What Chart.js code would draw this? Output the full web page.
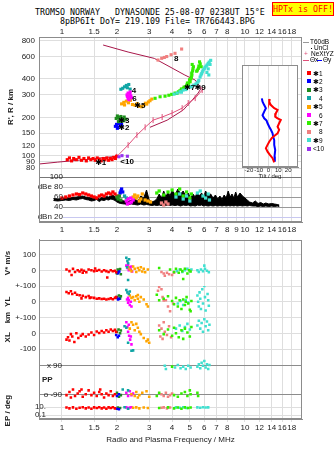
<!DOCTYPE html>
<html>
<head>
<meta charset="utf-8">
<script src="https://cdn.jsdelivr.net/npm/chart.js@4.4.1/dist/chart.umd.min.js"></script>
<style>
  body { margin: 0; width: 335px; height: 451px; background: #fff; position: relative; overflow: hidden;
         font-family: "Liberation Sans", Arial, sans-serif; }
  canvas { position: absolute; }
  .mono { position: absolute; font: 8.3px "DejaVu Sans Mono", monospace; white-space: pre; line-height: 9px; color: #000; }
  #hptx { left: 272px; top: 2px; width: 60px; height: 12px; background: #ffff00; border: 1px solid #ff0000;
          color: #ff0000; text-align: center; line-height: 12px; }
  .lg { position: absolute; font-size: 6.5px; line-height: 7px; white-space: pre; color: #000; }
  .sw { position: absolute; }
  .st { display: inline-block; width: 6px; font-family: "DejaVu Sans", sans-serif; font-size: 7px; }
</style>
</head>
<body>
<div class="mono" style="left:35px;top:8px">TROMSO NORWAY   DYNASONDE 25-08-07 0238UT 15°E</div>
<div class="mono" style="left:60px;top:17px">8pBP6It DoY= 219.109 File= TR766443.BPG</div>
<div class="mono" id="hptx">HPTx is OFF!</div>
<canvas id="ionoChart" width="335" height="240" style="left:0;top:0"></canvas>
<canvas id="tiltChart" width="66" height="118" style="left:236px;top:62px"></canvas>
<canvas id="polChart" width="335" height="219" style="left:0;top:232px"></canvas>
<div id="legend"></div>
<script>
// ---- axis ticks ----
const freqTicks = [1, 1.5, 2, 3, 4, 5, 6, 7, 8, 10, 12, 14, 16, 18];
const freqTicksMid = [1, 1.5, 2, 3, 4, 5, 6, 7, 8, 9, 10, 12, 14, 16, 18];
const heightTicks = [800, 600, 400, 300, 200, 150, 120, 100, 90, 80];
const ampTicks = [100, 80, 60, 40, 20];
const ampTickLabels = ['100', 'dBe 80', '60', '40', 'dBn 20'];
const tiltTicks = [-20, -10, 0, 10, 20];

// ---- echo classes ----
const classNames = ['✱1', '✱2', '✱3', '4', '✱5', '6', '✱7', '8', '✱9', '<10'];
const classColors = ['#ff0000', '#0000ff', '#1e8c1e', '#10a5a5', '#ffa500', '#ff00ff', '#33ee00', '#f08080', '#40e0d0', '#9933ee'];

// ---- ionogram traces [MHz, km] ----
const profileLower = [[0.75, 86], [0.95, 89], [1.55, 95], [2.0, 99]];
const profileUpper = [[1.68, 739], [2.3, 651], [3.2, 580], [4.0, 487], [4.7, 429], [5.35, 392], [5.77, 339],
  [5.55, 310], [5.15, 273], [4.6, 228], [3.76, 190], [3.03, 167]];
const nextyz = [[1.99, 98], [2.3, 121], [2.57, 145], [2.85, 167], [3.15, 190], [3.53, 201], [4.0, 216],
  [4.54, 236], [4.9, 259], [5.35, 283], [5.84, 327]];

// [MHz, km, class]
const ionoPts = [
  [1.07,93,1],[1.1,96,1],[1.13,91,1],[1.16,95,1],[1.2,93,1],[1.24,97,1],[1.28,92,1],[1.32,95,1],[1.36,91,1],
  [1.4,96,1],[1.44,93,1],[1.48,95,1],[1.52,92,1],[1.56,96,1],[1.6,94,1],[1.64,91,1],[1.68,95,1],[1.72,93,1],
  [1.76,96,1],[1.8,92,1],[1.84,95,1],[1.88,93,1],[1.92,97,1],[1.96,95,1],[1.99,99,1],
  [1.96,170,2],[1.99,176,2],[2.02,167,2],[2.05,179,2],[2.08,172,2],[2.12,176,2],[2.01,164,2],
  [1.98,196,3],[2.01,205,3],[2.04,199,3],[2.07,190,3],[2.1,203,3],[2.12,186,3],[2.15,196,3],[2.19,201,3],
  [2.17,188,3],[2.24,193,3],[2.04,185,3],[2.09,195,3],
  [2.1,332,4],[2.15,338,4],[2.2,347,4],[2.25,356,4],[2.28,341,4],[2.32,362,4],[2.36,333,4],
  [2.12,255,5],[2.18,262,5],[2.25,268,5],[2.31,260,5],[2.37,272,5],[2.43,252,5],[2.51,249,5],[2.58,256,5],
  [2.65,244,5],[2.73,242,5],[2.8,250,5],[2.86,258,5],[2.91,254,5],[2.97,264,5],[3.03,270,5],[3.1,278,5],[2.2,250,5],
  [2.27,300,6],[2.3,310,6],[2.32,290,6],[2.35,305,6],[2.3,280,6],[2.38,295,6],[2.33,275,6],[2.4,285,6],
  [2.36,316,6],[2.28,292,6],
  [3.23,282,7],[3.44,290,7],[3.66,293,7],[3.84,298,7],[3.98,303,7],[4.15,310,7],[4.33,317,7],[4.47,326,7],
  [4.61,337,7],[4.72,346,7],[4.81,358,7],[4.92,370,7],[5.02,380,7],[5.07,402,7],[5.13,429,7],[5.18,462,7],
  [5.23,499,7],[5.5,470,7],[5.57,485,7],[5.77,499,7],[4.5,334,7],[4.25,308,7],[4.9,352,7],[4.98,392,7],[5.1,415,7],
  [4.4,322,7],[4.65,345,7],[4.85,372,7],[5.0,395,7],[5.12,445,7],[5.2,480,7],[5.6,505,7],[5.7,525,7],[5.45,460,7],
  [5.15,520,7],[5.65,545,7],
  [3.35,563,8],[3.51,581,8],[3.63,590,8],[3.74,600,8],[3.95,620,8],[4.15,636,8],[4.51,687,8],
  [4.1,304,9],[4.26,310,9],[4.42,318,9],[4.59,327,9],[4.8,335,9],[5.02,345,9],[5.25,358,9],[5.48,371,9],
  [5.6,390,9],[5.69,414,9],[5.8,440,9],[5.91,471,9],[6.05,495,9],[6.22,516,9],[6.3,530,9],[6.38,543,9],
  [5.55,380,9],[5.85,455,9],
  [4.5,315,9],[4.75,330,9],[5.1,350,9],[5.4,365,9],[5.75,430,9],[6.0,480,9],[6.15,505,9],[6.2,450,9],
  [6.3,480,9],[6.45,520,9],[6.5,560,9],[6.35,430,9],
  [2.05,98,10],[2.13,100,10],[2.28,99,10]
];

// labels written on the ionogram [MHz, km, text]
const ionoLabels = [[1.63, 88, '✱1'], [2.27, 90, '<10'], [2.18, 187, '✱3'], [2.18, 164, '✱2'], [2.48, 321, '4'],
  [2.49, 281, '6'], [2.67, 245, '✱5'], [4.98, 339, '✱7'], [5.69, 339, '✱9'], [4.21, 576, '8']];

// ---- amplitude [MHz, dB low, dB high] of unclassified echoes ----
const unclAmp = [
  [0.9,53,57],[0.95,52,56],[1.0,53,57],[1.05,54,58],[1.1,53,58],[1.15,55,59],[1.2,54,60],[1.25,56,61],[1.3,57,62],
  [1.35,55,60],[1.4,54,59],[1.45,52,58],[1.5,53,57],[1.55,55,60],[1.6,51,56],[1.65,54,59],[1.7,53,58],[1.75,55,61],
  [1.8,54,60],[1.85,56,62],[1.9,55,64],[1.95,53,60],[2.0,50,58],[2.05,48,56],[2.1,47,53],[2.2,46,52],[2.3,45,51],
  [2.4,46,54],[2.5,45,56],[2.6,44,52],[2.7,46,62],[2.8,44,58],[2.9,45,74],[3.0,44,54],[3.1,43,50],[3.2,44,52],
  [3.3,43,56],[3.4,44,66],[3.5,43,58],[3.6,44,72],[3.7,43,60],[3.8,44,70],[3.9,43,62],[4.0,44,74],[4.15,43,64],
  [4.3,44,76],[4.45,42,66],[4.6,44,72],[4.75,43,62],[4.9,44,68],[5.05,42,58],[5.2,43,66],[5.35,42,60],[5.5,44,70],
  [5.65,43,62],[5.8,44,68],[5.95,42,60],[6.1,43,72],[6.3,42,62],[6.5,43,66],[6.7,42,58],[6.9,43,64],[7.1,42,56],
  [7.3,43,62],[7.5,42,55],[7.7,43,64],[7.9,42,58],[8.1,43,72],[8.3,42,60],[8.5,43,66],[8.7,42,58],[8.9,43,70],
  [9.1,42,60],[9.4,43,68],[9.7,42,62],[10.0,43,58],[10.3,42,54],[10.6,43,50],[11.0,42,48],[11.4,42,52],[11.8,41,47],
  [12.2,42,49],[12.6,41,46],[13.0,42,48],[13.5,41,46],[14.0,42,47],[14.5,41,46],[15.0,42,45],[15.4,41,44]
];
// [MHz, dB, class]
const ampPts = [
  [1.0,58,1],[1.05,60,1],[1.1,62,1],[1.15,64,1],[1.2,66,1],[1.25,65,1],[1.3,68,1],[1.35,66,1],[1.4,64,1],[1.45,62,1],
  [1.5,60,1],[1.55,58,1],[1.6,62,1],[1.65,64,1],[1.7,62,1],[1.75,66,1],[1.8,68,1],[1.85,66,1],[1.9,70,1],[1.95,66,1],[2.0,62,1],
  [2.08,68,2],[2.1,72,2],[2.12,76,2],[2.15,70,2],
  [2.0,60,3],[2.03,56,3],[2.06,62,3],[2.1,54,3],
  [2.2,62,4],[2.25,58,4],
  [2.45,60,5],[2.5,64,5],[2.55,58,5],[2.6,62,5],[2.65,52,5],[2.7,56,5],[2.75,66,5],[2.85,54,5],[2.95,52,5],[3.05,50,5],
  [2.25,52,6],[2.28,46,6],[2.3,56,6],[2.35,48,6],[2.38,58,6],[2.4,50,6],[2.45,54,6],
  [3.3,68,7],[3.4,72,7],[3.6,64,7],[3.8,70,7],[4.0,74,7],[4.2,66,7],[4.4,76,7],[4.6,62,7],[4.8,70,7],[5.0,58,7],[5.1,66,7],
  [3.5,48,8],[3.6,44,8],[3.7,50,8],[3.8,46,8],
  [4.2,60,9],[4.4,66,9],[4.6,56,9],[4.8,62,9],[5.0,52,9],[5.5,68,9],[5.7,72,9],[5.9,62,9],[6.1,58,9],[6.3,66,9],[6.4,54,9]
];

// ---- tilt inset [deg, km] ----
const tiltX = [[1.4,278],[0.7,265],[2.4,249],[5.8,235],[9.2,228],[7.5,215],[6.8,202],[9.2,196],[12.5,190],[10.8,179],
  [9.2,168],[10.8,159],[9.2,149],[5.8,142],[3.4,137],[0.7,128],[-1,121],[-2.7,114],[-1,107],[1.4,101],[4.1,95],[5.8,88]];
const tiltY = [[-6.8,281],[-6.1,265],[-4.4,249],[-2.7,235],[-4.4,221],[-6.1,207],[-4.4,196],[-2,188],[-1,179],[0.7,168],
  [2.4,159],[4.1,149],[4.7,141],[5.8,132],[5.8,121],[6.8,110],[6.1,98],[6.4,89]];

// ---- lower panel [MHz, value, class] ----
const vStarPts = [
  [1.06,5,1],[1.1,-5,1],[1.13,-29,1],[1.15,10,1],[1.18,-10,1],[1.22,0,1],[1.25,-8,1],[1.28,3,1],[1.32,-2,1],[1.36,-12,1],
  [1.4,5,1],[1.45,0,1],[1.5,-5,1],[1.52,12,1],[1.55,-3,1],[1.6,2,1],[1.65,-8,1],[1.7,0,1],[1.75,-5,1],[1.77,-46,1],
  [1.8,-10,1],[1.85,0,1],[1.9,-6,1],[1.95,-3,1],[1.98,-12,1],[1.3,-15,1],
  [2.0,-12,2],[2.03,-18,2],[2.06,-8,2],
  [2.0,-20,3],[2.04,-5,3],[2.08,8,3],[2.1,-25,3],[2.02,5,3],
  [2.25,80,4],[2.28,60,4],[2.3,45,4],[2.33,70,4],[2.27,20,4],[2.3,-62,4],
  [2.3,20,5],[2.35,5,5],[2.4,-5,5],[2.45,25,5],[2.5,10,5],[2.55,-10,5],[2.6,15,5],[2.65,0,5],[2.7,20,5],[2.75,-8,5],
  [2.8,10,5],[2.85,-12,5],[2.95,5,5],
  [2.25,30,6],[2.28,15,6],[2.3,35,6],[2.32,0,6],[2.35,20,6],[2.38,5,6],[2.4,25,6],[2.42,-8,6],
  [3.4,15,7],[3.9,5,7],[4.1,-10,7],[4.2,10,7],[4.35,-15,7],[4.45,5,7],[4.55,-5,7],[4.7,10,7],[4.85,-20,7],[4.95,0,7],
  [5.05,-8,7],[4.6,-55,7],
  [3.5,-10,8],[3.6,-20,8],[3.65,-35,8],[3.75,-15,8],[3.85,-25,8],[4.0,-30,8],[4.1,-15,8],
  [4.25,-5,9],[4.4,5,9],[4.55,-10,9],[4.7,0,9],[4.85,10,9],[5.0,-5,9],[5.1,5,9],[5.5,0,9],[5.6,-10,9],[5.75,5,9],
  [5.9,-5,9],[6.05,10,9],[6.2,-3,9],[6.35,-12,9],[6.0,30,9]
];
const ylPts = [
  [1.06,62,1],[1.09,55,1],[1.12,67,1],[1.14,50,1],[1.18,58,1],[1.21,45,1],[1.25,42,1],[1.3,38,1],[1.35,30,1],[1.4,37,1],
  [1.45,28,1],[1.5,25,1],[1.55,20,1],[1.6,22,1],[1.65,18,1],[1.7,20,1],[1.75,15,1],[1.8,18,1],[1.85,22,1],[1.9,16,1],
  [1.95,25,1],[1.98,30,1],[1.28,22,1],[1.42,25,1],
  [2.0,25,2],[2.03,15,2],[2.06,20,2],
  [2.0,30,3],[2.05,40,3],[2.08,22,3],[2.1,35,3],
  [2.25,75,4],[2.28,60,4],[2.32,50,4],[2.35,65,4],
  [2.35,40,5],[2.4,25,5],[2.45,30,5],[2.5,10,5],[2.55,35,5],[2.6,20,5],[2.65,0,5],[2.7,30,5],[2.8,15,5],[2.9,-15,5],
  [2.95,-30,5],[2.6,44,5],
  [2.27,15,6],[2.3,-5,6],[2.32,10,6],[2.35,-20,6],[2.38,0,6],[2.4,-30,6],[2.3,25,6],
  [3.3,45,7],[3.4,10,7],[3.6,20,7],[3.8,35,7],[4.0,5,7],[4.1,-15,7],[4.2,25,7],[4.3,-30,7],[4.4,10,7],[4.5,-45,7],
  [4.6,15,7],[4.7,-20,7],[4.8,30,7],[4.9,-10,7],[5.0,-50,7],[5.05,-60,7],[5.1,5,7],[4.75,0,7],
  [3.35,70,8],[3.4,95,8],[3.45,115,8],[3.5,80,8],[3.55,30,8],[3.6,8,8],[3.7,10,8],[3.8,-30,8],[3.9,-60,8],[4.05,-10,8],
  [4.3,-10,9],[4.45,5,9],[4.6,-20,9],[4.75,10,9],[4.9,-5,9],[5.5,40,9],[5.55,0,9],[5.6,-30,9],[5.65,60,9],[5.7,20,9],
  [5.75,-45,9],[5.85,80,9],[5.9,-10,9],[6.0,100,9],[6.05,30,9],[6.1,-55,9],[6.2,120,9],[6.25,50,9],[6.3,10,9],[6.35,-25,9]
];
const xlPts = [
  [1.06,-40,1],[1.08,-25,1],[1.1,-45,1],[1.12,-5,1],[1.14,-20,1],[1.17,-55,1],[1.2,0,1],[1.23,-30,1],[1.27,-15,1],
  [1.3,-5,1],[1.35,-20,1],[1.4,-8,1],[1.45,5,1],[1.5,-10,1],[1.55,12,1],[1.6,2,1],[1.65,15,1],[1.7,5,1],[1.75,20,1],
  [1.8,10,1],[1.85,25,1],[1.9,15,1],[1.95,22,1],[1.98,8,1],
  [1.98,-10,2],[2.02,-25,2],[2.05,-15,2],
  [2.0,10,3],[2.04,25,3],[2.08,0,3],[2.1,18,3],
  [2.2,45,4],[2.25,35,4],[2.4,-110,4],[2.45,-108,4],[2.3,-60,4],
  [2.35,30,5],[2.4,70,5],[2.45,55,5],[2.5,20,5],[2.55,60,5],[2.6,35,5],[2.65,10,5],[2.7,-5,5],[2.8,-30,5],[2.9,-50,5],
  [3.0,-60,5],[2.95,-40,5],
  [2.25,70,6],[2.28,40,6],[2.3,10,6],[2.33,-15,6],[2.36,-40,6],[2.4,-70,6],[2.38,-20,6],[2.32,55,6],
  [3.4,20,7],[3.6,-5,7],[3.8,25,7],[4.0,-15,7],[4.1,35,7],[4.2,0,7],[4.35,-25,7],[4.5,20,7],[4.6,-35,7],[4.7,30,7],
  [4.85,5,7],[5.0,-20,7],[5.1,40,7],
  [3.4,50,8],[3.45,-20,8],[3.5,30,8],[3.55,-35,8],[3.6,70,8],[3.65,10,8],[3.75,-10,8],[3.85,45,8],[3.95,-25,8],
  [4.2,30,9],[4.4,50,9],[4.55,15,9],[4.7,40,9],[4.85,60,9],[5.0,25,9],[5.5,50,9],[5.6,80,9],[5.7,30,9],[5.8,65,9],
  [5.9,10,9],[6.0,90,9],[6.1,45,9],[6.2,75,9],[6.3,20,9],[6.4,55,9]
];
const ppPts = [
  [1.06,-95,1],[1.1,-75,1],[1.12,-110,1],[1.15,-60,1],[1.18,-100,1],[1.22,-85,1],[1.25,-70,1],[1.3,-105,1],[1.35,-90,1],
  [1.4,-65,1],[1.45,-95,1],[1.5,-80,1],[1.55,-100,1],[1.6,-75,1],[1.65,-90,1],[1.7,-110,1],[1.75,-85,1],[1.8,-95,1],
  [1.85,-70,1],[1.9,-100,1],[1.95,-90,1],[1.28,-60,1],[1.62,-60,1],
  [2.0,-100,2],[2.05,-90,2],
  [2.0,-80,3],[2.05,-105,3],[2.1,-95,3],
  [2.15,-60,4],[2.3,-65,4],
  [2.4,-90,5],[2.5,-100,5],[2.55,-75,5],[2.65,-95,5],[2.75,-80,5],[2.9,-70,5],[3.0,-105,5],[2.6,-110,5],
  [2.25,-80,6],[2.3,-100,6],[2.35,-70,6],[2.4,-95,6],[2.45,-85,6],
  [3.3,-100,7],[3.4,-80,7],[4.0,85,7],[4.1,-95,7],[4.3,-105,7],[4.5,-85,7],[4.7,-75,7],[4.85,-100,7],[5.0,-65,7],
  [5.05,-90,7],[5.5,-80,7],[5.55,-100,7],
  [3.5,-90,8],[3.6,-100,8],[3.7,-80,8],[3.8,-105,8],[3.9,-95,8],[4.0,-85,8],
  [3.65,90,9],[3.7,70,9],[4.15,80,9],[4.3,95,9],[4.45,75,9],[4.6,85,9],[4.75,70,9],[4.9,90,9],[5.05,80,9],[5.5,85,9],
  [5.6,100,9],[5.7,75,9],[5.8,110,9],[5.9,90,9],[6.0,120,9],[6.1,80,9],[6.2,100,9],[6.3,70,9],[6.4,95,9]
];
const epPts = [
  [1.06,8,1],[1.1,5,1],[1.15,9,1],[1.2,4,1],[1.25,7,1],[1.3,10,1],[1.35,5,1],[1.4,8,1],[1.45,4,1],[1.5,9,1],[1.55,6,1],
  [1.6,10,1],[1.65,5,1],[1.7,8,1],[1.75,4,1],[1.8,9,1],[1.85,6,1],[1.9,10,1],[1.95,5,1],
  [2.0,4,2],[2.05,3,2],
  [2.02,8,3],[2.08,6,3],
  [2.2,10,4],[2.3,4,4],
  [2.45,7,5],[2.55,9,5],[2.65,5,5],[2.8,8,5],[2.95,6,5],
  [2.25,9,6],[2.3,5,6],[2.35,8,6],[2.4,10,6],
  [3.4,6,7],[3.8,9,7],[4.1,5,7],[4.3,8,7],[4.5,4,7],[4.7,9,7],[4.9,6,7],[5.05,8,7],
  [3.5,7,8],[3.6,9,8],[3.75,5,8],[3.9,8,8],
  [4.2,9,9],[4.4,7,9],[4.6,10,9],[4.8,6,9],[5.5,9,9],[5.7,7,9],[5.9,10,9],[6.1,8,9],[6.3,9,9]
];

// ---- helpers ----
Chart.defaults.font.family = "'Liberation Sans', Arial, sans-serif";
Chart.defaults.font.size = 8;
Chart.defaults.color = '#222';
Chart.defaults.animation = false;

const gridColor = '#dedede';
const frameColor = '#8c8c8c';
const fMin = 0.75, fMax = 20.5;

function pts(list) { return list.map(p => ({ x: p[0], y: p[1] })); }
function ofClass(list, c) { return pts(list.filter(p => p[2] === c)); }
function fixTicks(values) { return axis => { axis.ticks = values.map(v => ({ value: v })); }; }
function fixWidth(w) { return axis => { axis.width = w; }; }
function fixHeight(h) { return axis => { axis.height = h; }; }

function classSets(list, axis, radius) {
  const sets = [];
  classNames.forEach((name, i) => {
    const data = ofClass(list, i + 1);
    if (!data.length) return;
    sets.push({ label: name, data: data, yAxisID: axis, pointStyle: 'rect', pointRadius: radius,
      backgroundColor: classColors[i], borderWidth: 0 });
  });
  return sets;
}

// outline of the plot area
const framePlugin = {
  id: 'frame',
  afterDraw(chart) {
    const a = chart.chartArea, ctx = chart.ctx;
    ctx.save();
    ctx.strokeStyle = frameColor;
    ctx.lineWidth = 1;
    ctx.strokeRect(Math.round(a.left) + 0.5, Math.round(a.top) + 0.5, Math.round(a.width) - 1, Math.round(a.height) - 1);
    ctx.restore();
  }
};

// tick labels that sit inside the plot, left edge
const innerLabels = {
  id: 'innerLabels',
  beforeDatasetsDraw(chart, args, opts) {
    const ctx = chart.ctx, a = chart.chartArea;
    ctx.save();
    ctx.fillStyle = '#fff';
    (opts.items || []).forEach(it => {
      const s = chart.scales[it.axis];
      if (it.blank) ctx.fillRect(a.left + 1, s.top + 1, it.right - 1, s.bottom - s.top - 1);
    });
    ctx.restore();
  },
  afterDatasetsDraw(chart, args, opts) {
    const ctx = chart.ctx, a = chart.chartArea;
    ctx.save();
    ctx.font = "8px 'Liberation Sans', Arial, sans-serif";
    ctx.fillStyle = '#222';
    ctx.textAlign = 'right';
    ctx.textBaseline = 'middle';
    (opts.items || []).forEach(it => {
      const s = chart.scales[it.axis];
      it.values.forEach((v, i) => ctx.fillText(it.labels[i], a.left + it.right, s.getPixelForValue(v)));
    });
    ctx.restore();
  }
};

// text marks placed at data coordinates
const textMarks = {
  id: 'textMarks',
  afterDatasetsDraw(chart, args, opts) {
    if (!opts.items) return;
    const ctx = chart.ctx, xs = chart.scales.x, ys = chart.scales[opts.axis];
    ctx.save();
    ctx.font = "bold 8px 'Liberation Sans', 'DejaVu Sans', sans-serif";
    ctx.fillStyle = '#000';
    ctx.textAlign = 'center';
    ctx.textBaseline = 'middle';
    opts.items.forEach(([f, v, t]) => ctx.fillText(t, xs.getPixelForValue(f), ys.getPixelForValue(v)));
    ctx.restore();
  }
};

function freqAxis(position, ticks, height, pad, extra) {
  return Object.assign({
    type: 'logarithmic', position: position, min: fMin, max: fMax,
    afterBuildTicks: fixTicks(ticks), afterFit: fixHeight(height),
    ticks: { autoSkip: false, maxRotation: 0, padding: pad, callback: v => String(v) },
    grid: { color: gridColor, drawTicks: false },
    border: { color: frameColor }
  }, extra || {});
}

// ---- top chart: ionogram + amplitude ----
const topSets = [];
topSets.push({ label: 'UnCl', data: pts(unclAmp.map(r => [r[0], r[1]])), yAxisID: 'amp', showLine: true,
  borderColor: '#000', borderWidth: 1, pointRadius: 0, backgroundColor: '#000' });
topSets.push({ label: 'UnCl', data: pts(unclAmp.map(r => [r[0], r[2]])), yAxisID: 'amp', showLine: true,
  borderColor: '#000', borderWidth: 1, pointRadius: 0, backgroundColor: '#000', fill: '-1' });
classSets(ampPts, 'amp', 2.3).forEach(s => topSets.push(s));
topSets.push({ label: 'profile', data: pts(profileLower), yAxisID: 'h', showLine: true, borderColor: '#a8174a',
  borderWidth: 1, pointRadius: 0 });
topSets.push({ label: 'profile', data: pts(profileUpper), yAxisID: 'h', showLine: true, borderColor: '#a8174a',
  borderWidth: 1, pointRadius: 0 });
topSets.push({ label: 'NeXtYZ', data: pts(nextyz), yAxisID: 'h', showLine: true, borderColor: '#e0507a',
  borderWidth: 1, pointStyle: 'line', rotation: 90, pointRadius: 3, pointBorderColor: '#e0507a', pointBorderWidth: 1 });
classSets(ionoPts, 'h', 2.2).forEach(s => topSets.push(s));
topSets.forEach((s, i) => { s.order = -i; });

// stacked axes are laid out bottom-up in the order they are listed
new Chart(document.getElementById('ionoChart'), {
  type: 'scatter',
  data: { datasets: topSets },
  options: {
    responsive: false,
    layout: { padding: { left: 0, right: 33, top: 22, bottom: 4 } },
    plugins: {
      legend: { display: false }, tooltip: { enabled: false },
      innerLabels: { items: [{ axis: 'amp', values: ampTicks, labels: ampTickLabels, right: 24, blank: true }] },
      textMarks: { axis: 'h', items: ionoLabels }
    },
    scales: {
      x: freqAxis('bottom', freqTicksMid, 14, 3),
      xTop: freqAxis('top', freqTicks, 15, 0, { grid: { display: false, drawTicks: false }, border: { display: false } }),
      amp: {
        type: 'linear', position: 'left', stack: 'top', stackWeight: 45, min: 10, max: 100,
        afterBuildTicks: fixTicks(ampTicks), afterFit: fixWidth(39),
        ticks: { display: false },
        grid: { drawTicks: false, color: ctx => ({ 100: '#777', 80: '#c8c8c8', 60: '#999', 40: '#999', 20: '#c8c8f0' })[ctx.tick.value] || gridColor },
        border: { color: frameColor }
      },
      h: {
        type: 'logarithmic', position: 'left', stack: 'top', stackWeight: 140, min: 68, max: 854,
        afterBuildTicks: fixTicks(heightTicks), afterFit: fixWidth(39),
        ticks: { padding: 4, autoSkip: false, callback: v => String(v) },
        grid: { color: gridColor, drawTicks: false }, border: { color: frameColor },
        title: { display: true, text: "R', R / km", font: { size: 8, weight: 'bold' }, padding: { top: 6, bottom: 0 } }
      }
    }
  },
  plugins: [innerLabels, textMarks, framePlugin]
});

// ---- tilt inset ----
new Chart(document.getElementById('tiltChart'), {
  type: 'scatter',
  data: {
    datasets: [
      { label: 'Θx', data: pts(tiltX), showLine: true, borderColor: '#ff0000', borderWidth: 2, pointRadius: 0 },
      { label: 'Θy', data: pts(tiltY), showLine: true, borderColor: '#0000ff', borderWidth: 2, pointRadius: 0 }
    ]
  },
  options: {
    responsive: false,
    layout: { padding: { left: 6, right: 4, top: 3, bottom: 0 } },
    plugins: {
      legend: { display: false }, tooltip: { enabled: false },
      innerLabels: { items: [] }
    },
    scales: {
      x: {
        type: 'linear', min: -27, max: 30, afterBuildTicks: fixTicks(tiltTicks), afterFit: fixHeight(13),
        ticks: { font: { size: 6 }, padding: 0, autoSkip: false, maxRotation: 0, callback: v => String(v) },
        grid: { color: gridColor, drawTicks: false }, border: { color: frameColor },
        title: { display: true, text: 'Tilt / deg', font: { size: 6 }, padding: 0 }
      },
      y: { type: 'logarithmic', min: 81, max: 515, display: false }
    }
  },
  plugins: [{
    id: 'whiteBg',
    beforeDraw(chart) {
      const a = chart.chartArea;
      chart.ctx.fillStyle = '#fff';
      chart.ctx.fillRect(a.left, a.top, a.width, a.height);
    }
  }, framePlugin]
});

// ---- lower chart: V*, YL, XL, PP, EP ----
const polSets = [];
[['vs', vStarPts], ['yl', ylPts], ['xl', xlPts], ['pp', ppPts], ['ep', epPts]].forEach(([axis, list]) => {
  classSets(list, axis, 1.8).forEach(s => polSets.push(s));
});

function polAxis(weight, min, max, ticks, labels, title, extra) {
  return Object.assign({
    type: 'linear', position: 'left', stack: 'pol', stackWeight: weight, min: min, max: max,
    afterBuildTicks: fixTicks(ticks), afterFit: fixWidth(39),
    ticks: { padding: 3, autoSkip: false, callback: (v, i) => labels[i] },
    grid: { color: gridColor, drawTicks: false }, border: { color: frameColor },
    title: { display: !!title, text: title, font: { size: 8, weight: 'bold' }, padding: { top: 3, bottom: 0 } }
  }, extra || {});
}

new Chart(document.getElementById('polChart'), {
  type: 'scatter',
  data: { datasets: polSets },
  options: {
    responsive: false,
    layout: { padding: { left: 0, right: 33, top: 5, bottom: 6 } },
    plugins: {
      legend: { display: false }, tooltip: { enabled: false },
      innerLabels: { items: [
        { axis: 'pp', values: [90, -90], labels: ['x 90', 'o -90'], right: 23, blank: false },
        { axis: 'ep', values: [10, 0.1], labels: ['10.', '0.1'], right: 7, blank: false }
      ] }
    },
    scales: {
      x: freqAxis('bottom', freqTicks, 26, 1, {
        grid: { color: gridColor, drawTicks: true, tickLength: 3 },
        title: { display: true, text: 'Radio and Plasma Frequency / MHz', font: { size: 8 }, padding: { top: 3, bottom: 0 } }
      }),
      ep: polAxis(17, 0.01, 178, [10, 0.1], ['', ''], 'EP / deg', { type: 'logarithmic', ticks: { display: false } }),
      pp: polAxis(46, -140, 146, [90, -90], ['', ''], '', {
        ticks: { display: false }, grid: { color: '#8c8c8c', drawTicks: false }
      }),
      xl: polAxis(40, -150, 100, [100, 0, -100], ['+-100', '0', '-100'], 'XL'),
      yl: polAxis(32, -100, 100, [100, 0], ['+-100', '0'], 'YL'),
      vs: polAxis(47, -100, 194, [100, 0], ['100', '0'], 'V* m/s')
    }
  },
  plugins: [innerLabels, framePlugin, {
    id: 'sideText',
    afterDraw(chart) {
      const ctx = chart.ctx, a = chart.chartArea;
      ctx.save();
      ctx.font = "bold 8px 'Liberation Sans', Arial, sans-serif";
      ctx.fillStyle = '#222';
      ctx.textBaseline = 'middle';
      ctx.fillText('PP', a.left + 3, chart.scales.pp.getPixelForValue(0));
      ctx.translate(8, chart.scales.xl.top);
      ctx.rotate(-Math.PI / 2);
      ctx.textAlign = 'center';
      ctx.fillText('km', 0, 0);
      ctx.restore();
    }
  }]
});

// ---- legend (right of the ionogram) ----
const legend = document.getElementById('legend');
function addEl(cls, style, text) {
  const d = document.createElement('div');
  d.className = cls;
  d.style.cssText = style;
  if (text !== undefined) d.textContent = text;
  legend.appendChild(d);
  return d;
}
addEl('sw', 'left:303px;top:42px;width:6px;height:1px;background:#999');
addEl('lg', 'left:310px;top:38px', 'T60dB');
addEl('sw', 'left:311px;top:48px;width:1px;height:1px;background:#000');
addEl('lg', 'left:314px;top:44px', 'UnCl');
addEl('lg', 'left:304px;top:50px;color:#e0507a', '+');
addEl('lg', 'left:311px;top:50px', 'NeXtYZ');
addEl('sw', 'left:303px;top:60px;width:6px;height:1px;background:#e0507a');
addEl('lg', 'left:310px;top:56px', 'Θx');
addEl('sw', 'left:317px;top:60px;width:5px;height:1px;background:#0000ff');
addEl('lg', 'left:323px;top:56px', 'Θy');
classNames.forEach((name, i) => {
  const y = 71 + i * 8.4;
  addEl('sw', 'left:307px;top:' + y + 'px;width:4px;height:4px;background:' + classColors[i]);
  const t = addEl('lg', 'left:313px;top:' + (y - 1.5) + 'px');
  const star = document.createElement('span');
  star.className = 'st';
  if (name[0] === '✱') { star.textContent = '✱'; t.appendChild(star); t.appendChild(document.createTextNode(name.slice(1))); }
  else if (name[0] === '<') { t.textContent = name; }
  else { t.appendChild(star); t.appendChild(document.createTextNode(name)); }
});
</script>
</body>
</html>
